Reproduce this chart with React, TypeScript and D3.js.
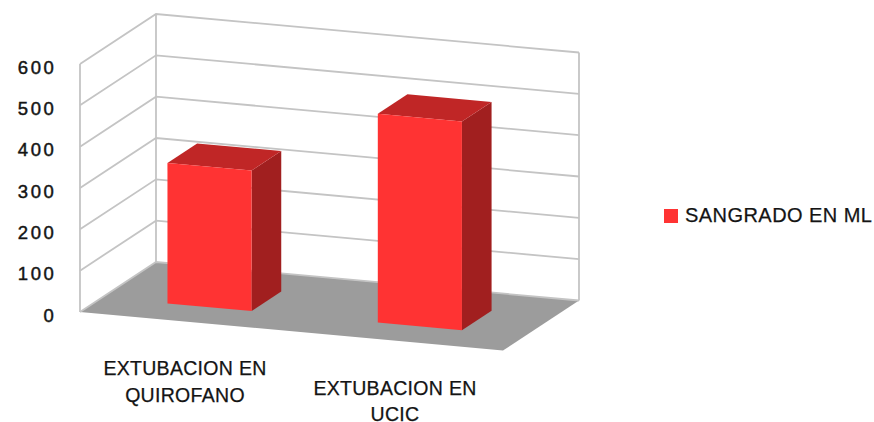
import React from "react";
import * as d3 from "d3";

const categories = ["EXTUBACION EN|QUIROFANO", "EXTUBACION EN|UCIC"];
const seriesName = "SANGRADO EN ML";
const bleeding = [340, 505];
const ticks = [0, 100, 200, 300, 400, 500, 600];

const WIDTH = 874;
const HEIGHT = 422;

// Oblique projection of the chart box: u runs along the category axis,
// v runs into the depth of the box, value runs up the vertical axis.
const floorU = d3.scaleLinear().domain([0, 1]).range([0, 423]);
const floorUy = d3.scaleLinear().domain([0, 1]).range([0, 38.5]);
const floorV = d3.scaleLinear().domain([0, 1]).range([0, 76]);
const floorVy = d3.scaleLinear().domain([0, 1]).range([0, -50]);
const valueY = d3.scaleLinear().domain([0, 600]).range([0, -248]);
const origin = { x: 80, y: 312 };

const project = (u: number, v: number, value: number): [number, number] => [
  origin.x + floorU(u) + floorV(v),
  origin.y + floorUy(u) + floorVy(v) + valueY(value),
];

const band = d3
  .scaleBand<string>()
  .domain(categories)
  .range([0.0055, 1])
  .paddingInner(0.6)
  .paddingOuter(0.3);

const poly = (pts: [number, number][]) => d3.line()(pts) + "Z";

const FONT = "'Liberation Sans', Arial, sans-serif";
const GRID = "#c4c4c4";
const INK = "#141414";
const BAR_DEPTH = [0.29, 0.68];
const LABEL_X = [185, 395];
const LABEL_BASELINE = [375, 394.5];

export default function App() {
  const [v0, v1] = BAR_DEPTH;
  return (
    <svg
      width={WIDTH}
      height={HEIGHT}
      viewBox={`0 0 ${WIDTH} ${HEIGHT}`}
      style={{ position: "fixed", left: 0, top: 0, background: "#fff" }}
    >
      {/* floor */}
      <path
        d={poly([project(0, 0, 0), project(1, 0, 0), project(1, 1, 0), project(0, 1, 0)])}
        fill="#9c9c9c"
      />

      {/* grid on the side and back walls */}
      {ticks.map((t) => (
        <path
          key={t}
          d={d3.line()([project(0, 0, t), project(0, 1, t), project(1, 1, t)]) ?? ""}
          fill="none"
          stroke={GRID}
          strokeWidth={1.8}
        />
      ))}
      {[
        [0, 0],
        [0, 1],
        [1, 1],
      ].map(([u, v]) => (
        <path
          key={`${u}-${v}`}
          d={d3.line()([project(u, v, 0), project(u, v, 600)]) ?? ""}
          stroke={GRID}
          strokeWidth={1.8}
        />
      ))}

      {/* bars */}
      {categories.map((c, i) => {
        const u0 = band(c)!;
        const u1 = u0 + band.bandwidth();
        const h = bleeding[i];
        return (
          <g key={c}>
            <path
              d={poly([project(u1, v0, 0), project(u1, v1, 0), project(u1, v1, h), project(u1, v0, h)])}
              fill="#a11f1f"
            />
            <path
              d={poly([project(u0, v0, h), project(u1, v0, h), project(u1, v1, h), project(u0, v1, h)])}
              fill="#c02626"
            />
            <path
              d={poly([project(u0, v0, 0), project(u1, v0, 0), project(u1, v0, h), project(u0, v0, h)])}
              fill="#ff3333"
            />
          </g>
        );
      })}

      {/* value axis labels */}
      {ticks.map((t) => (
        <text
          key={t}
          x={56.5}
          y={project(0, 0, t)[1] + 9.5}
          textAnchor="end"
          fontFamily={FONT}
          fontSize={18.5}
          letterSpacing={2.6}
          fill={INK}
          stroke={INK}
          strokeWidth={0.45}
        >
          {t}
        </text>
      ))}

      {/* category labels */}
      {categories.map((c, i) =>
        c.split("|").map((line, j) => (
          <text
            key={line}
            x={LABEL_X[i]}
            y={LABEL_BASELINE[i] + j * 26.5}
            textAnchor="middle"
            fontFamily={FONT}
            fontSize={19.5}
            letterSpacing={0.3}
            fill={INK}
            stroke={INK}
            strokeWidth={0.25}
          >
            {line}
          </text>
        )),
      )}

      {/* legend */}
      <rect x={664} y={209} width={14} height={14} fill="#ff3333" />
      <text
        x={685}
        y={221.5}
        fontFamily={FONT}
        fontSize={20}
        letterSpacing={0.45}
        fill={INK}
        stroke={INK}
        strokeWidth={0.25}
      >
        {seriesName}
      </text>
    </svg>
  );
}
